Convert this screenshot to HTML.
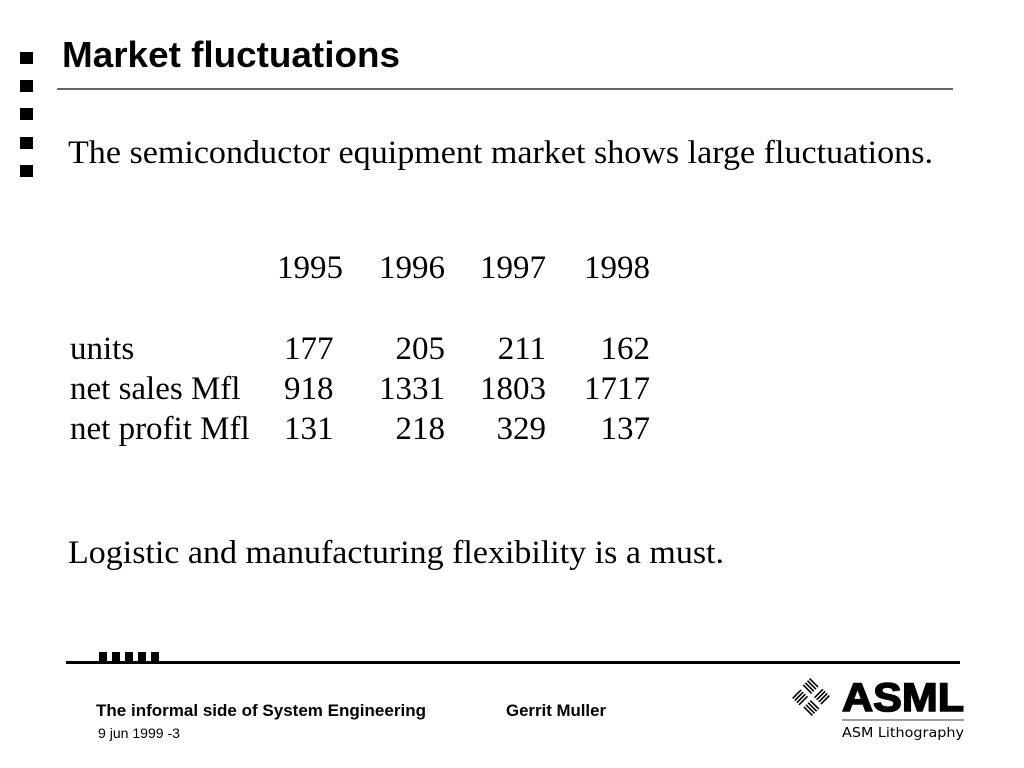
<!DOCTYPE html>
<html><head><meta charset="utf-8"><style>
html,body{margin:0;padding:0;background:#fff;}
svg{display:block;}
</style></head><body>
<svg id="slide" width="1024" height="768" viewBox="0 0 1024 768" xmlns="http://www.w3.org/2000/svg">
<g fill="#000">
<rect x="20" y="52" width="13" height="12"/>
<rect x="20" y="80" width="13" height="12"/>
<rect x="20" y="108" width="13" height="12"/>
<rect x="20" y="137" width="13" height="12"/>
<rect x="20" y="165" width="13" height="12"/>
</g>
<text x="62" y="67" font-family="Liberation Sans, sans-serif" font-weight="bold" font-size="36" textLength="338" lengthAdjust="spacingAndGlyphs">Market fluctuations</text>
<line x1="57" y1="89" x2="953" y2="89" stroke="#333" stroke-width="1.5"/>
<text x="68" y="163" font-family="Liberation Serif, serif" font-size="33" textLength="865" lengthAdjust="spacingAndGlyphs">The semiconductor equipment market shows large fluctuations.</text>
<g id="table" font-family="Liberation Serif, serif" font-size="33"></g>
<text x="68" y="563" font-family="Liberation Serif, serif" font-size="33" textLength="656" lengthAdjust="spacingAndGlyphs">Logistic and manufacturing flexibility is a must.</text>
<g fill="#000">
<rect x="66" y="661" width="894" height="3"/>
<rect x="99" y="652" width="8" height="10"/>
<rect x="112" y="652" width="8" height="10"/>
<rect x="125" y="652" width="8" height="10"/>
<rect x="138" y="652" width="8" height="10"/>
<rect x="151" y="652" width="8" height="10"/>
</g>
<text x="96" y="716" font-family="Liberation Sans, sans-serif" font-weight="bold" font-size="17" textLength="330" lengthAdjust="spacingAndGlyphs">The informal side of System Engineering</text>
<text x="506" y="716" font-family="Liberation Sans, sans-serif" font-weight="bold" font-size="17" textLength="100" lengthAdjust="spacingAndGlyphs">Gerrit Muller</text>
<text x="98" y="738" font-family="Liberation Sans, sans-serif" font-size="14" textLength="82" lengthAdjust="spacingAndGlyphs">9 jun 1999 -3</text>
<g>
<g transform="translate(811,697) rotate(45)" stroke="#000" stroke-width="1.6">
<line x1="-14" y1="-12" x2="-2" y2="-12"/><line x1="-14" y1="-9" x2="-2" y2="-9"/><line x1="-14" y1="-6" x2="-2" y2="-6"/><line x1="-14" y1="-3" x2="-2" y2="-3"/>
<line x1="3" y1="-14" x2="3" y2="-2"/><line x1="6" y1="-14" x2="6" y2="-2"/><line x1="9" y1="-14" x2="9" y2="-2"/><line x1="12" y1="-14" x2="12" y2="-2"/>
<line x1="-12" y1="2" x2="-12" y2="14"/><line x1="-9" y1="2" x2="-9" y2="14"/><line x1="-6" y1="2" x2="-6" y2="14"/><line x1="-3" y1="2" x2="-3" y2="14"/>
<line x1="2" y1="3" x2="14" y2="3"/><line x1="2" y1="6" x2="14" y2="6"/><line x1="2" y1="9" x2="14" y2="9"/><line x1="2" y1="12" x2="14" y2="12"/>
</g>
<text x="842" y="711" font-family="Liberation Sans, sans-serif" font-weight="bold" font-size="40" stroke="#000" stroke-width="1.5" textLength="122" lengthAdjust="spacingAndGlyphs">ASML</text>
<line x1="842" y1="720" x2="964" y2="720" stroke="#666" stroke-width="1.2"/>
<text x="842" y="737" font-family="DejaVu Sans, sans-serif" font-size="13" textLength="122" lengthAdjust="spacingAndGlyphs">ASM Lithography</text>
</g>
</svg>
<script>
const years = ["1995","1996","1997","1998"];
const rowLabels = ["units","net sales Mfl","net profit Mfl"];
const units = [177,205,211,162];
const netSales = [918,1331,1803,1717];
const netProfit = [131,218,329,137];
const NS="http://www.w3.org/2000/svg";
const tbl=document.getElementById('table');
const colRight=[343,445,546,650];
function txt(x,y,s,anchor){const t=document.createElementNS(NS,'text');t.setAttribute('x',x);t.setAttribute('y',y);if(anchor)t.setAttribute('text-anchor',anchor);t.textContent=s;tbl.appendChild(t);return t;}
years.forEach((yr,i)=>{const t=txt(colRight[i],278,yr,'end');

});
const rows=[units,netSales,netProfit];
rows.forEach((vals,r)=>{const y=359+r*40;
const l=txt(70,y,rowLabels[r]);


vals.forEach((v,i)=>{const t=i===0?txt(284,y,String(v)):txt(colRight[i],y,String(v),'end');

});});
</script>
</body></html>
